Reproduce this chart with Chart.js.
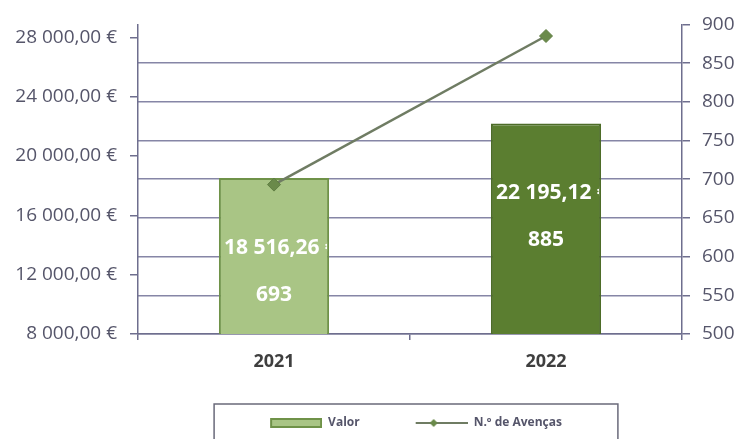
<!DOCTYPE html>
<html>
<head>
<meta charset="utf-8">
<script src="https://cdn.jsdelivr.net/npm/chart.js@4.4.1/dist/chart.umd.min.js"></script>
<style>
  html, body { margin: 0; padding: 0; background: #fff; }
  #wrap { width: 739px; height: 439px; }
</style>
</head>
<body>
<div id="wrap"><canvas id="chartcontainer"></canvas></div>
<script>
// dados
var anos = ['2021', '2022'];
var valor = [18516.26, 22195.12];
var avencas = [693, 885];
var valorTicks = [8000, 12000, 16000, 20000, 24000, 28000];
var avencasTicks = [500, 550, 600, 650, 700, 750, 800, 850, 900];

var corClara = '#a9c585', bordaClara = '#6f9248';
var corEscura = '#5b7e30', bordaEscura = '#4d6c28';
var corLinha = '#6f7c63', corPonto = '#6a8a4a';
var corEixo = '#6e6e8e', corGrelha = '#8686a6', corTexto = '#55556a';

function fmtEuro(v) {
    var parts = v.toFixed(2).split('.');
    var inteiro = parts[0].replace(/\B(?=(\d{3})+(?!\d))/g, ' ');
    return inteiro + ',' + parts[1] + ' €';
}

// icones da legenda (12px em branco a esquerda para afastar os itens)
function makeSwatch() {
    var c = document.createElement('canvas');
    c.width = 64; c.height = 10;
    var g = c.getContext('2d');
    g.fillStyle = corClara;
    g.fillRect(13, 1, 50, 8);
    g.strokeStyle = bordaClara;
    g.lineWidth = 2;
    g.strokeRect(13, 1, 50, 8);
    return c;
}
function makeLineIcon() {
    var c = document.createElement('canvas');
    c.width = 64; c.height = 12;
    var g = c.getContext('2d');
    g.strokeStyle = corLinha;
    g.lineWidth = 2;
    g.beginPath(); g.moveTo(12, 6); g.lineTo(64, 6); g.stroke();
    g.fillStyle = corPonto;
    g.beginPath(); g.moveTo(30, 2); g.lineTo(34, 6); g.lineTo(30, 10); g.lineTo(26, 6); g.closePath(); g.fill();
    return c;
}

var rotulosPlugin = {
    id: 'rotulos',
    afterDatasetsDraw: function(chart) {
        var ctx = chart.ctx;
        var barras = chart.getDatasetMeta(0).data;
        barras.forEach(function(bar, i) {
            var esq = bar.x - bar.width / 2;
            ctx.save();
            ctx.beginPath();
            ctx.rect(esq + 2, bar.y, bar.width - 4, bar.base - bar.y);
            ctx.clip();
            ctx.fillStyle = '#ffffff';
            ctx.font = 'bold 21px "Open Sans"';
            ctx.textBaseline = 'middle';
            ctx.textAlign = 'left';
            ctx.fillText(fmtEuro(valor[i]), esq + 5, bar.y + 70);
            ctx.textAlign = 'center';
            ctx.fillText(String(avencas[i]), bar.x, bar.y + 117);
            ctx.restore();
        });
    },
    afterDraw: function(chart) {
        // moldura da legenda
        var hb = chart.legend.legendHitBoxes;
        if (!hb || !hb.length) return;
        var last = hb[hb.length - 1];
        var esq = hb[0].left + 12 - 56;
        var dir = last.left + last.width + 56;
        var topo = hb[0].top + hb[0].height / 2 - 19;
        var ctx = chart.ctx;
        ctx.save();
        ctx.strokeStyle = '#6a6a7a';
        ctx.lineWidth = 1.5;
        ctx.strokeRect(esq, topo, dir - esq, chart.height - topo + 10);
        ctx.restore();
    }
};

var ctx = document.getElementById('chartcontainer').getContext('2d');
var chart = new Chart(ctx, {
    data: {
        labels: anos,
        datasets: [{
            type: 'bar',
            label: 'Valor',
            data: valor,
            yAxisID: 'y',
            backgroundColor: [corClara, corEscura],
            borderColor: [bordaClara, bordaEscura],
            borderWidth: 2,
            barPercentage: 0.405,
            categoryPercentage: 1,
            order: 1
        }, {
            type: 'line',
            label: 'N.º de Avenças',
            data: avencas,
            yAxisID: 'y1',
            borderColor: corLinha,
            borderWidth: 2.5,
            pointStyle: 'rectRot',
            pointRadius: 6.5,
            pointBackgroundColor: corPonto,
            pointBorderColor: '#5f7d42',
            pointBorderWidth: 1,
            order: 0
        }]
    },
    options: {
        responsive: true,
        maintainAspectRatio: false,
        animation: false,
        layout: { padding: { top: 21, left: 0, right: 0, bottom: 0 } },
        plugins: {
            tooltip: { enabled: false },
            legend: {
                position: 'bottom',
                fullSize: false,
                labels: {
                    usePointStyle: true,
                    pointStyleWidth: 64,
                    padding: 44,
                    color: corTexto,
                    font: { family: 'Open Sans', size: 12, weight: 'bold' },
                    generateLabels: function() {
                        return [
                            { text: 'Valor', pointStyle: makeSwatch(), fontColor: corTexto, datasetIndex: 0 },
                            { text: 'N.º de Avenças', pointStyle: makeLineIcon(), fontColor: corTexto, datasetIndex: 1 }
                        ];
                    }
                }
            }
        },
        scales: {
            x: {
                type: 'category',
                afterFit: function(scale) { scale.height = 39; },
                grid: { display: true, drawOnChartArea: false, offset: true, tickLength: 6, color: corEixo, lineWidth: 1.5 },
                border: { display: true, color: corEixo, width: 1.5 },
                ticks: { color: '#3f3f3f', padding: 11, font: { family: 'Open Sans', size: 18, weight: 'bold' } }
            },
            y: {
                type: 'linear',
                position: 'left',
                min: valorTicks[0],
                max: 28870,
                afterFit: function(scale) { scale.width = 138; },
                afterBuildTicks: function(scale) {
                    scale.ticks = valorTicks.map(function(v) { return { value: v }; });
                },
                grid: { drawOnChartArea: false, tickLength: 8, color: corEixo, lineWidth: 1.5 },
                border: { display: true, color: corEixo, width: 1.5 },
                ticks: {
                    color: corTexto,
                    padding: 13,
                    font: { family: 'Open Sans', size: 19 },
                    callback: function(v) { return fmtEuro(v); }
                }
            },
            y1: {
                type: 'linear',
                position: 'right',
                min: avencasTicks[0],
                max: avencasTicks[avencasTicks.length - 1],
                afterFit: function(scale) { scale.width = 57; },
                afterBuildTicks: function(scale) {
                    scale.ticks = avencasTicks.map(function(v) { return { value: v }; });
                },
                grid: {
                    drawOnChartArea: true,
                    tickLength: 8,
                    lineWidth: 1.5,
                    tickColor: corEixo,
                    color: function(c) { return c.tick && c.tick.value === 900 ? 'rgba(0,0,0,0)' : corGrelha; }
                },
                border: { display: true, color: corEixo, width: 1.5 },
                ticks: { color: corTexto, padding: 12, font: { family: 'Open Sans', size: 19 } }
            }
        }
    },
    plugins: [rotulosPlugin]
});
</script>
</body>
</html>
